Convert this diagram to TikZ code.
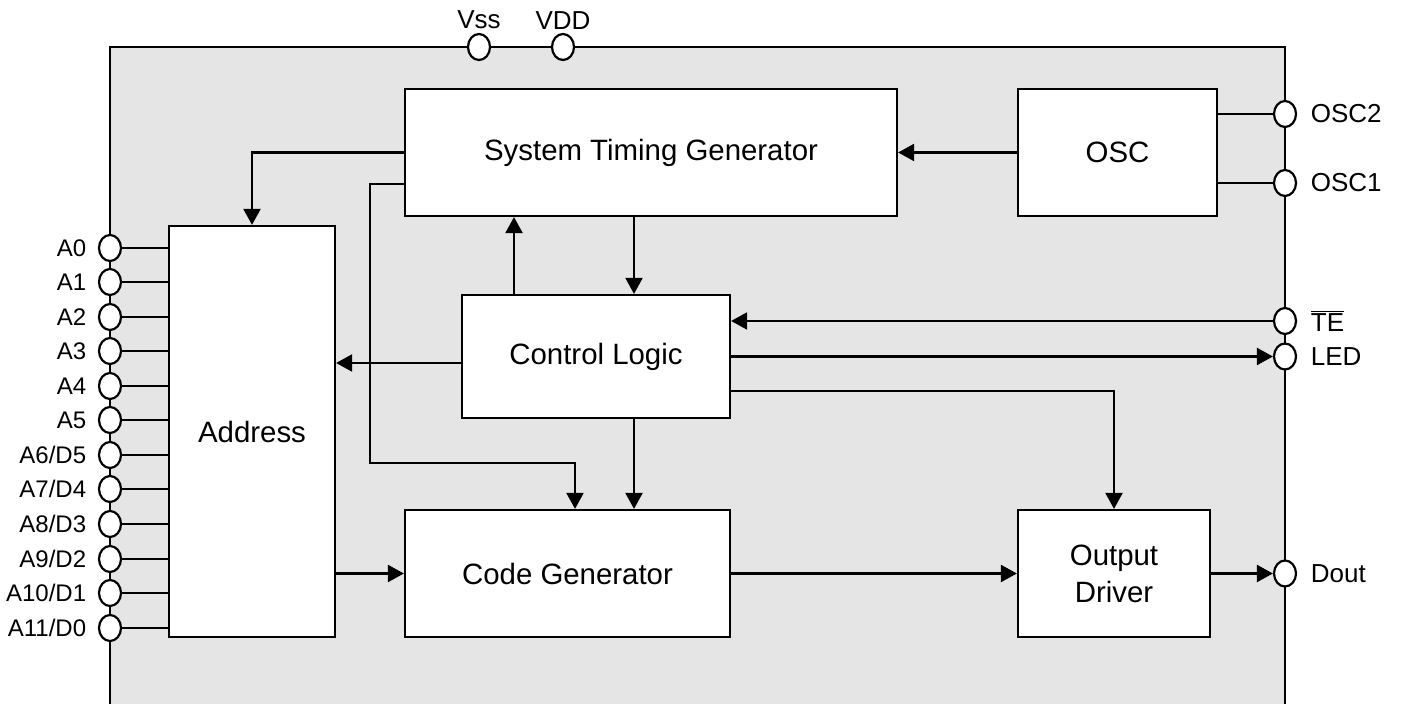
\documentclass[tikz,border=0pt]{standalone}
\usepackage{fontspec}
\setmainfont{Liberation Sans}
\usetikzlibrary{arrows.meta,shapes.geometric}
\definecolor{chipgray}{HTML}{E5E5E5}

\tikzset{
  block/.style={draw,fill=white,rectangle,inner sep=0pt,align=center,
    font=\fontsize{14.7}{18.5}\selectfont},
  pad/.style={draw,fill=white,ellipse,inner sep=0pt,
    minimum width=11pt,minimum height=13pt},
  padtext/.style={font=\fontsize{13}{15}\selectfont},
  padl/.style={pad,label={[font=\fontsize{12}{14}\selectfont,label distance=2pt]left:#1}},
  padr/.style={pad,label={[padtext,label distance=3pt]right:#1}},
  sig/.style={-{Triangle[length=8pt,width=8.5pt]}}
}

\begin{document}
\begin{tikzpicture}[x=0.5pt,y=-0.5pt,line width=1.1pt]
  \useasboundingbox (0,0) rectangle (1401,704);

  % chip outline
  \draw[fill=chipgray] (110,47) rectangle (1285,760);

  % blocks
  \node[block,minimum width=246pt,minimum height=63.5pt] (stg) at (651,152.5) {System Timing Generator};
  \node[block,minimum width=99.5pt,minimum height=63.5pt] (osc) at (1117.5,152.5) {OSC};
  \node[block,minimum width=83pt,minimum height=205.5pt] (addr) at (252,431.5) {Address};
  \node[block,minimum width=134pt,minimum height=61.5pt] (ctl) at (596,356.5) {Control Logic};
  \node[block,minimum width=162.5pt,minimum height=63.5pt] (cg) at (567.5,573.5) {Code Generator};
  \node[block,minimum width=96pt,minimum height=63.5pt] (od) at (1114,573.5) {Output\\Driver};

  % supply pins
  \node[pad,label={[padtext,label distance=-2pt]above:Vss}] (vss) at (479,47) {};
  \node[pad,label={[padtext,label distance=-2pt]above:VDD}] (vdd) at (563,47) {};

  % right pins
  \node[padr=OSC2] (osc2) at (1285,114) {};
  \node[padr=OSC1] (osc1) at (1285,183) {};
  \node[padr={$\overline{\hbox{TE}}$}] (te) at (1285,321) {};
  \node[padr=LED] (led) at (1285,356.5) {};
  \node[padr=Dout] (dout) at (1285,573.5) {};

  % address pins
  \node[padl=A0]     (a0)  at (110,248) {};
  \node[padl=A1]     (a1)  at (110,282) {};
  \node[padl=A2]     (a2)  at (110,317) {};
  \node[padl=A3]     (a3)  at (110,351) {};
  \node[padl=A4]     (a4)  at (110,386) {};
  \node[padl=A5]     (a5)  at (110,420) {};
  \node[padl=A6/D5]  (a6)  at (110,455) {};
  \node[padl=A7/D4]  (a7)  at (110,489) {};
  \node[padl=A8/D3]  (a8)  at (110,524) {};
  \node[padl=A9/D2]  (a9)  at (110,559) {};
  \node[padl=A10/D1] (a10) at (110,593) {};
  \node[padl=A11/D0] (a11) at (110,628) {};

  \foreach \p in {a0,a1,a2,a3,a4,a5,a6,a7,a8,a9,a10,a11}
    \draw (\p.east) -- (addr.west |- \p);

  % helper points
  \coordinate (bend1) at (370,184);
  \coordinate (bend2) at (370,463);
  \coordinate (bend3) at (575,463);
  \coordinate (xup) at (514,0);
  \coordinate (xdn) at (634,0);
  \coordinate (yaddr) at (0,363);
  \coordinate (yod) at (0,391);

  % connections
  \draw (osc.east |- osc2) -- (osc2.west);
  \draw (osc.east |- osc1) -- (osc1.west);
  \draw[sig] (osc.west) -- (stg.east);
  \draw[sig] (stg.west) -| (addr.north);
  \draw[sig] (stg.west |- bend1) -- (bend1) -- (bend2) -- (bend3) -- (bend3 |- cg.north);
  \draw[sig] (ctl.north -| xup) -- (stg.south -| xup);
  \draw[sig] (stg.south -| xdn) -- (ctl.north -| xdn);
  \draw[sig] (ctl.west |- yaddr) -- (addr.east |- yaddr);
  \draw[sig] (te.west) -- (ctl.east |- te);
  \draw[sig] (ctl.east |- led) -- (led.west);
  \draw[sig] (ctl.east |- yod) -| (od.north);
  \draw[sig] (ctl.south -| xdn) -- (cg.north -| xdn);
  \draw[sig] (addr.east |- cg) -- (cg.west);
  \draw[sig] (cg.east) -- (od.west);
  \draw[sig] (od.east) -- (dout.west);

\end{tikzpicture}
\end{document}
